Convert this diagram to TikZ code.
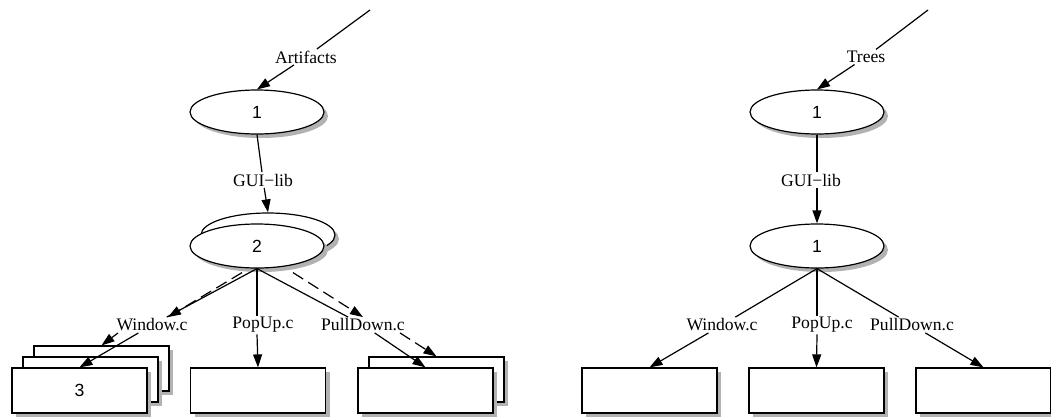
\documentclass[tikz,border=0pt]{standalone}
\usepackage{fontspec}
\setmainfont{Liberation Serif}
\newfontfamily\numfont{Liberation Sans}
\usepackage{tikz}
\usetikzlibrary{positioning,shapes,arrows.meta,calc,shadows}
\newcommand{\lblsize}{\fontsize{17.6}{20}\selectfont}

\tikzset{
  artshadow/.style={drop shadow={shadow xshift=4pt, shadow yshift=-4pt, fill=black!30, opacity=1}},
  artnode/.style={draw, ellipse, fill=white, line width=1.2pt, minimum width=134pt, minimum height=44pt, font=\numfont\lblsize, artshadow},
  filebox/.style={draw, rectangle, fill=white, line width=1.2pt, minimum width=135pt, minimum height=45pt, font=\numfont\lblsize, artshadow},
  edgelbl/.style={inner sep=1.5pt, font=\lblsize},
  edgeplain/.style={line width=1.2pt},
  edgeline/.style={line width=1.2pt, -{Triangle[length=13pt,width=9pt]}},
  edgedash/.style={edgeline, dash pattern=on 12pt off 6pt}
}

\begin{document}
\begin{tikzpicture}[x=1pt, y=-1pt]
  \useasboundingbox (0,0) rectangle (1051,418);

  % left: Artifacts
  \coordinate (ltop) at (370,10);
\node (lart) at (306,57) [edgelbl] {Artifacts};
\node (l1) at (257,112) [artnode] {1};
\node (lgui) at (263,180) [edgelbl] {GUI−lib};
\node (l2b) at (268,235) [artnode] {};
\node (l2) at (257,246) [artnode] {2};

\node (lwin) at (152,325) [edgelbl] {Window.c};
\node (lpop) at (263,325) [edgelbl] {PopUp.c};
\node (lpull) at (363,325) [edgelbl] {PullDown.c};

\node (lb1b) at (101.5,368.5) [filebox] {};
\node (lb1m) at (90.5,379.5) [filebox] {};
\node (lb1) at (79.5,390.5) [filebox] {3};
\node (lb2) at (258,390.5) [filebox] {};
\node (lb3b) at (436.5,379.5) [filebox] {};
\node (lb3) at (425.5,390.5) [filebox] {};

  \draw[edgeplain] (ltop) -- (lart);
  \draw[edgeline] (lart) -- (l1.north);
  \draw[edgeplain] (l1.south) -- (lgui);
  \draw[edgeline] (lgui) -- (l2b.north);

  \draw[edgeplain] (l2.south) -- (lwin);
  \draw[edgeline] (lwin) -- (lb1.north);
  \draw[edgedash] ($(l2.south)+(-15,4)$) -- ($(lwin.north)+(16,0)$);
  \draw[edgedash] ($(lwin.south)+(-34,0)$) -- (lb1b.north);

  \draw[edgeplain] (l2.south) -- (l2.south |- lpop.north);
  \draw[edgeline] (l2.south |- lpop.south) -- (lb2.north);

  \draw[edgeplain] (l2.south) -- (lpull);
  \draw[edgeline] (lpull) -- (lb3.north);
  \draw[edgedash] ($(l2.south)+(36,4)$) -- (lpull.north);
  \draw[edgedash] ($(lpull.south)+(37,0)$) -- (lb3b.north);

  % right: Trees
  \coordinate (rtop) at (928,10);
\node (rtree) at (866,57) [edgelbl] {Trees};
\node (r1) at (817,112) [artnode] {1};
\node (rgui) at (811,180) [edgelbl] {GUI−lib};
\node (r2) at (817,246) [artnode] {1};

\node (rwin) at (722,325) [edgelbl] {Window.c};
\node (rpop) at (822,325) [edgelbl] {PopUp.c};
\node (rpull) at (912,325) [edgelbl] {PullDown.c};

\node (rb1) at (649.5,390.5) [filebox] {};
\node (rb2) at (816.5,390.5) [filebox] {};
\node (rb3) at (983.5,390.5) [filebox] {};

  \draw[edgeplain] (rtop) -- (rtree);
  \draw[edgeline] (rtree) -- (r1.north);
  \draw[edgeplain] (r1.south) -- (r1.south |- rgui.north);
  \draw[edgeline] (r1.south |- rgui.south) -- (r2.north);

  \draw[edgeplain] (r2.south) -- (rwin);
  \draw[edgeline] (rwin) -- (rb1.north);
  \draw[edgeplain] (r2.south) -- (r2.south |- rpop.north);
  \draw[edgeline] (r2.south |- rpop.south) -- (rb2.north);
  \draw[edgeplain] (r2.south) -- (rpull);
  \draw[edgeline] (rpull) -- (rb3.north);
\end{tikzpicture}
\end{document}
